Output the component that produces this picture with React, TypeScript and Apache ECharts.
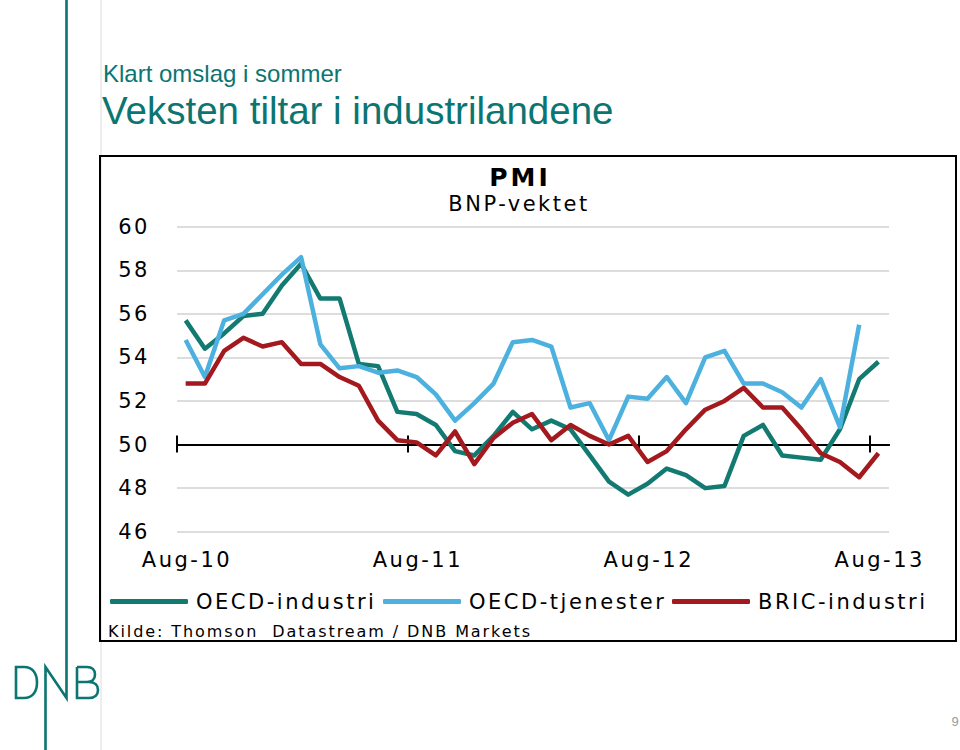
import React, { useEffect, useRef } from 'react';
import * as echarts from 'echarts';

// ---------------- data ----------------
const seriesNames = ['OECD-industri', 'OECD-tjenester', 'BRIC-industri'];
// monthly values, Aug-10 .. Aug-13
const oecdIndustri = [55.7, 54.4, 55.1, 55.9, 56.0, 57.3, 58.3, 56.7, 56.7, 53.7, 53.6, 51.5, 51.4, 50.9, 49.7, 49.5, 50.4, 51.5, 50.7, 51.1, 50.7, 49.5, 48.3, 47.7, 48.2, 48.9, 48.6, 48.0, 48.1, 50.4, 50.9, 49.5, 49.4, 49.3, 50.7, 53.0, 53.8];
// Aug-10 .. Jul-13
const oecdTjenester = [54.8, 53.1, 55.7, 56.0, 56.9, 57.8, 58.6, 54.6, 53.5, 53.6, 53.3, 53.4, 53.1, 52.3, 51.1, 51.9, 52.8, 54.7, 54.8, 54.5, 51.7, 51.9, 50.2, 52.2, 52.1, 53.1, 51.9, 54.0, 54.3, 52.8, 52.8, 52.4, 51.7, 53.0, 50.8, 55.5];
// Aug-10 .. Aug-13
const bricIndustri = [52.8, 52.8, 54.3, 54.9, 54.5, 54.7, 53.7, 53.7, 53.1, 52.7, 51.1, 50.2, 50.1, 49.5, 50.6, 49.1, 50.3, 51.0, 51.4, 50.2, 50.9, 50.4, 50.0, 50.4, 49.2, 49.7, 50.7, 51.6, 52.0, 52.6, 51.7, 51.7, 50.7, 49.6, 49.2, 48.5, 49.6];

const tickLabels = ['Aug-10', 'Aug-11', 'Aug-12', 'Aug-13'];
const tickMonths = [0, 12, 24, 36];

const Y_MIN = 46;
const Y_MAX = 60;
const Y_STEP = 2;
const Y_CROSS = 50;
const X_MAX = 37;
const MID_MONTH = 0.45;

// ---------------- style ----------------
const COLORS = ['#137A71', '#4CB1DE', '#A3191E'];
const TEAL = '#0B7572';
const CHART_FONT = '"DejaVu Sans", sans-serif';
const SLIDE_FONT = '"Liberation Sans", Arial, sans-serif';

const GRID = { left: 177, top: 226.7, width: 712, height: 305 };
const crossOffset = (GRID.height * (Y_CROSS - Y_MIN)) / (Y_MAX - Y_MIN);

const D_PATH = 'M16 667 L16 698 L24 698 C33 698 37 691 37 682.5 C37 674 33 667 24 667 Z';
const B_PATH =
  'M77 667 L77 698 L89 698 C95 698 98 694.5 98 690 C98 685.5 95 682 89 682 L77 682 M77 667 L87 667 C92 667 95 670 95 674.5 C95 679 92 682 87 682';
echarts.graphic.registerShape('dnbD', echarts.graphic.extendPath(D_PATH, {}));
echarts.graphic.registerShape('dnbB', echarts.graphic.extendPath(B_PATH, {}));

const toPoints = (arr: number[]) => arr.map((v, i) => [i + MID_MONTH, v]);

const baseX = {
  type: 'value',
  min: 0,
  max: X_MAX,
  position: 'bottom',
  splitLine: { show: false },
  axisLabel: { show: false },
};

function buildOption() {
  const data = [oecdIndustri, oecdTjenester, bricIndustri];
  const legendLefts = [110, 383, 672];
  return {
    animation: false,
    backgroundColor: '#ffffff',
    grid: { left: GRID.left, top: GRID.top, width: GRID.width, height: GRID.height, containLabel: false },
    xAxis: [
      {
        ...baseX,
        offset: -crossOffset,
        axisLine: { show: true, onZero: false, lineStyle: { color: '#000', width: 2 } },
        axisTick: { show: true, inside: true, length: 9, customValues: tickMonths, lineStyle: { color: '#000', width: 2 } },
      },
      {
        ...baseX,
        offset: -crossOffset,
        axisLine: { show: true, onZero: false, lineStyle: { color: '#000', width: 2 } },
        axisTick: { show: true, inside: false, length: 8, customValues: tickMonths, lineStyle: { color: '#000', width: 2 } },
      },
      {
        ...baseX,
        offset: 0,
        axisLine: { show: false, onZero: false },
        axisTick: { show: false },
        axisLabel: {
          show: true,
          customValues: tickMonths,
          formatter: (v: number) => tickLabels[tickMonths.indexOf(Math.round(v))] ?? '',
          margin: 18,
          padding: [0, 0, 0, 20],
          fontSize: 21,
          fontFamily: CHART_FONT,
          color: '#000',
        },
      },
    ],
    yAxis: {
      type: 'value',
      min: Y_MIN,
      max: Y_MAX,
      interval: Y_STEP,
      axisLine: { show: false },
      axisTick: { show: false },
      splitLine: { show: true, lineStyle: { color: '#d2d2d2', width: 1.6 } },
      axisLabel: { margin: 27, fontSize: 21, fontFamily: CHART_FONT, color: '#000' },
    },
    legend: seriesNames.map((name, k) => ({
      data: [name],
      left: legendLefts[k],
      top: 591,
      padding: 0,
      itemGap: 0,
      icon: 'roundRect',
      itemWidth: 78,
      itemHeight: 5,
      textStyle: { fontSize: 21, fontFamily: CHART_FONT, color: '#000', padding: [0, 0, 0, 3] },
    })),
    series: data.map((arr, k) => ({
      name: seriesNames[k],
      type: 'line',
      xAxisIndex: 0,
      data: toPoints(arr),
      symbol: 'none',
      showSymbol: false,
      color: COLORS[k],
      itemStyle: { color: COLORS[k] },
      lineStyle: { color: COLORS[k], width: 4.5, join: 'round' },
      z: 2 + k,
    })),
    graphic: [
      // slide frame line
      { type: 'line', shape: { x1: 101, y1: 0, x2: 101, y2: 750 }, style: { stroke: '#dcdcdc', lineWidth: 1 }, z: -1 },
      // DNB logo
      {
        type: 'polyline',
        shape: { points: [[45.5, 750], [45.5, 667], [66.5, 698], [66.5, 0]] },
        style: { stroke: TEAL, lineWidth: 2.6, fill: 'none' },
      },
      { type: 'dnbD', x: 0, y: 0, scaleX: 1, scaleY: 1, style: { stroke: TEAL, lineWidth: 2.6, fill: 'none' } },
      { type: 'dnbB', x: 0, y: 0, scaleX: 1, scaleY: 1, style: { stroke: TEAL, lineWidth: 2.6, fill: 'none' } },
      // slide titles
      {
        type: 'text',
        x: 103,
        y: 73.5,
        style: { text: 'Klart omslag i sommer', fill: TEAL, fontSize: 24, fontFamily: SLIDE_FONT, align: 'left', verticalAlign: 'middle', textAlign: 'left', textVerticalAlign: 'middle' },
      },
      {
        type: 'text',
        x: 102,
        y: 110,
        style: { text: 'Veksten tiltar i industrilandene', fill: TEAL, fontSize: 38.5, fontFamily: SLIDE_FONT, align: 'left', verticalAlign: 'middle', textAlign: 'left', textVerticalAlign: 'middle' },
      },
      // chart box
      { type: 'rect', shape: { x: 100, y: 156, width: 856, height: 485 }, style: { fill: 'none', stroke: '#000', lineWidth: 2 } },
      {
        type: 'text',
        x: 520,
        y: 177.5,
        style: { text: 'PMI', fill: '#000', fontSize: 25, fontWeight: 'bold', fontFamily: CHART_FONT, align: 'center', verticalAlign: 'middle', textAlign: 'center', textVerticalAlign: 'middle' },
      },
      {
        type: 'text',
        x: 519,
        y: 204,
        style: { text: 'BNP-vektet', fill: '#000', fontSize: 21, fontFamily: CHART_FONT, align: 'center', verticalAlign: 'middle', textAlign: 'center', textVerticalAlign: 'middle' },
      },
      {
        type: 'text',
        x: 108,
        y: 631,
        style: { text: 'Kilde: Thomson  Datastream / DNB Markets', fill: '#000', fontSize: 16, fontFamily: CHART_FONT, align: 'left', verticalAlign: 'middle', textAlign: 'left', textVerticalAlign: 'middle' },
      },
      // page number
      {
        type: 'text',
        x: 955,
        y: 721,
        style: { text: '9', fill: '#9a9a9a', fontSize: 13, fontFamily: SLIDE_FONT, align: 'center', verticalAlign: 'middle', textAlign: 'center', textVerticalAlign: 'middle' },
      },
    ],
  };
}

export default function App() {
  const ref = useRef<HTMLDivElement>(null);
  useEffect(() => {
    if (!ref.current) return;
    const chart = echarts.init(ref.current, null, { renderer: 'svg', width: 960, height: 750 });
    chart.setOption(buildOption() as any);
    return () => chart.dispose();
  }, []);
  return (
    <div style={{ position: 'absolute', left: 0, top: 0, width: 960, height: 750, background: '#fff' }}>
      <style>{'.pmi-chart text[style*="DejaVu"] { letter-spacing: 0.12em; }'}</style>
      <div ref={ref} className="pmi-chart" style={{ width: 960, height: 750 }} />
    </div>
  );
}
